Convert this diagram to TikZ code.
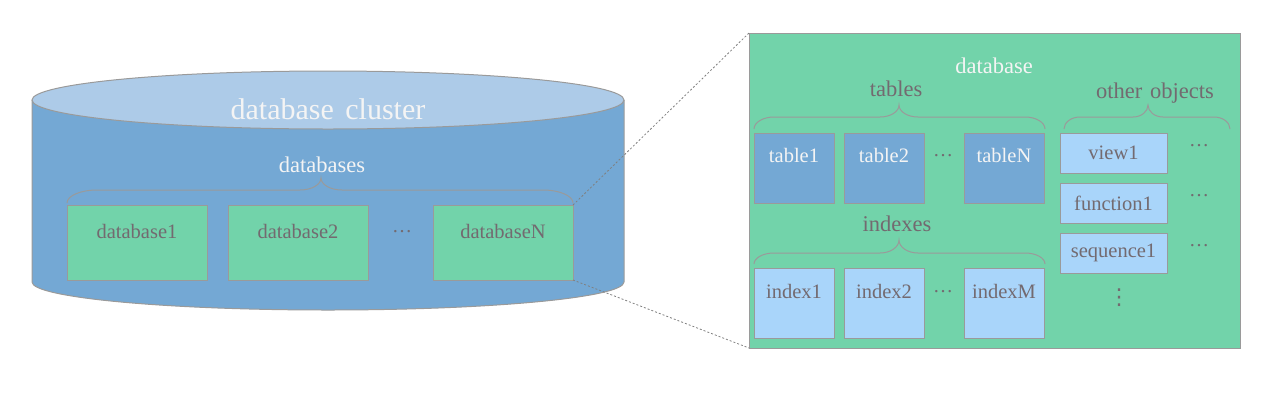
\documentclass[tikz,border=0pt]{standalone}
\usepackage{fontspec}
\setmainfont{Liberation Serif}
\newfontfamily\symfont{DejaVu Sans}
\definecolor{cylbody}{HTML}{74A8D4}
\definecolor{cyltop}{HTML}{ADCBE8}
\definecolor{dbgreen}{HTML}{72D3AA}
\definecolor{tblue}{HTML}{74A8D4}
\definecolor{lblue}{HTML}{A9D5FA}
\definecolor{txtgray}{HTML}{736A70}
\definecolor{edgegray}{HTML}{9A9A9A}
\definecolor{wtext}{HTML}{F4F4F4}
% #1 left x, #2 right x, #3 tip x, #4 horizontal y, #5 end y, #6 tip y, #7 end radius, #8 tip radius
\newcommand\mybrace[8]{%
  \draw[bracestyle] (#1,#5) .. controls (#1,{#5-0.55*(#5-#4)}) and ({#1+0.45*#7},#4) .. ({#1+#7},#4)
    -- ({#3-#8},#4)
    .. controls ({#3-0.45*#8},#4) and (#3,{#4-0.45*(#4-#6)}) .. (#3,#6)
    .. controls (#3,{#4-0.45*(#4-#6)}) and ({#3+0.45*#8},#4) .. ({#3+#8},#4)
    -- ({#2-#7},#4)
    .. controls ({#2-0.45*#7},#4) and (#2,{#5-0.55*(#5-#4)}) .. (#2,#5);}
\tikzset{
  bracestyle/.style={draw=edgegray, line width=1pt},
  boxbase/.style={draw=edgegray, line width=1pt, inner sep=0pt, outer sep=0pt},
  dbbox/.style={boxbase, fill=dbgreen, minimum width=140pt, minimum height=75pt},
  tblbox/.style={boxbase, fill=tblue, minimum width=80pt, minimum height=70pt},
  idxbox/.style={boxbase, fill=lblue, minimum width=80pt, minimum height=70pt},
  objbox/.style={boxbase, fill=lblue, minimum width=107pt, minimum height=40pt,
    text=txtgray, font=\fontsize{20.5}{24}\selectfont},
  graylbl/.style={text=txtgray, inner sep=0pt, font=\fontsize{22.5}{27}\selectfont},
  whitelbl/.style={text=wtext, inner sep=0pt, font=\fontsize{22.5}{27}\selectfont},
  boxtext/.style={inner sep=0pt, font=\fontsize{20.5}{24}\selectfont},
  dotsstyle/.style={text=txtgray, inner sep=0pt, anchor=base, font=\fontsize{20}{24}\selectfont},
  zoomline/.style={draw=gray, line width=0.8pt, dash pattern=on 2pt off 2pt}
}
\begin{document}
\begin{tikzpicture}[x=1pt,y=-1pt]
\useasboundingbox (0,0) rectangle (1280,400);
% cylinder
\fill[cylbody] (32,100) -- (32,282) arc[start angle=180,end angle=360,x radius=296pt,y radius=28pt]
  -- (624,100) -- cycle;
\draw[edgegray, line width=1pt] (32,100) -- (32,282) arc[start angle=180,end angle=360,x radius=296pt,y radius=28pt] -- (624,100);
\draw[edgegray, fill=cyltop, line width=1pt] (328,100) ellipse [x radius=296pt, y radius=29pt];
\node[text=wtext, inner sep=0pt, font=\fontsize{30}{36}\selectfont] (cluster) at (328,109) {database\hspace{4pt} cluster};
\node[whitelbl] (dbs) at (322,165) {databases};
\mybrace{67}{573}{321}{190}{203}{178}{30}{21}
\node[dbbox, label={[boxtext, text=txtgray, anchor=center, yshift=-26pt]north:database1}] (db1) at (137,242.5) {};
\node[dbbox, label={[boxtext, text=txtgray, anchor=center, yshift=-26pt]north:database2}] (db2) at (298,242.5) {};
\node[dbbox, label={[boxtext, text=txtgray, anchor=center, yshift=-26pt]north:databaseN}] (dbN) at (503,242.5) {};
\node[dotsstyle] (ldots) at (402,232) {\dots};
% panel
\node[boxbase, fill=dbgreen, minimum width=491pt, minimum height=315pt] (panel) at (994.5,190.5) {};
\draw[zoomline] (dbN.north east) -- (panel.north west);
\draw[zoomline] (dbN.south east) -- (panel.south west);
\node[whitelbl] (dbl) at (994,66) {database};
\node[graylbl] (tbl) at (896,89) {tables};
\mybrace{754}{1045}{899}{117}{129}{105}{20}{19}
\node[tblbox, label={[boxtext, text=wtext, anchor=center, yshift=-22pt]north:table1}] (t1) at (794,168) {};
\node[tblbox, label={[boxtext, text=wtext, anchor=center, yshift=-22pt]north:table2}] (t2) at (884,168) {};
\node[tblbox, label={[boxtext, text=wtext, anchor=center, yshift=-22pt]north:tableN}] (tN) at (1004,168) {};
\node[dotsstyle] (tdots) at (943,156) {\dots};
\node[graylbl] (idx) at (897,224) {indexes};
\mybrace{754}{1045}{899}{253}{264}{240}{20}{19}
\node[idxbox, label={[boxtext, text=txtgray, anchor=center, yshift=-23pt]north:index1}] (i1) at (794,303) {};
\node[idxbox, label={[boxtext, text=txtgray, anchor=center, yshift=-23pt]north:index2}] (i2) at (884,303) {};
\node[idxbox, label={[boxtext, text=txtgray, anchor=center, yshift=-23pt]north:indexM}] (iM) at (1004,303) {};
\node[dotsstyle] (idots) at (943,292) {\dots};
\node[graylbl] (oth) at (1155,93) {other\hspace{2pt} objects};
\mybrace{1064}{1230}{1148}{117}{129}{105}{16}{15}
\node[objbox] (v1) at (1113.5,153) {view1};
\node[objbox] (f1) at (1113.5,203) {function1};
\node[objbox] (s1) at (1113.5,253) {sequence1};
\node[dotsstyle] (vdots1) at (1199,146) {\dots};
\node[dotsstyle] (vdots2) at (1199,196) {\dots};
\node[dotsstyle] (vdots3) at (1199,246) {\dots};
\node[text=txtgray, inner sep=0pt, font=\symfont\fontsize{22}{26}\selectfont] (vdots) at (1119,298) {⋮};
\end{tikzpicture}
\end{document}
